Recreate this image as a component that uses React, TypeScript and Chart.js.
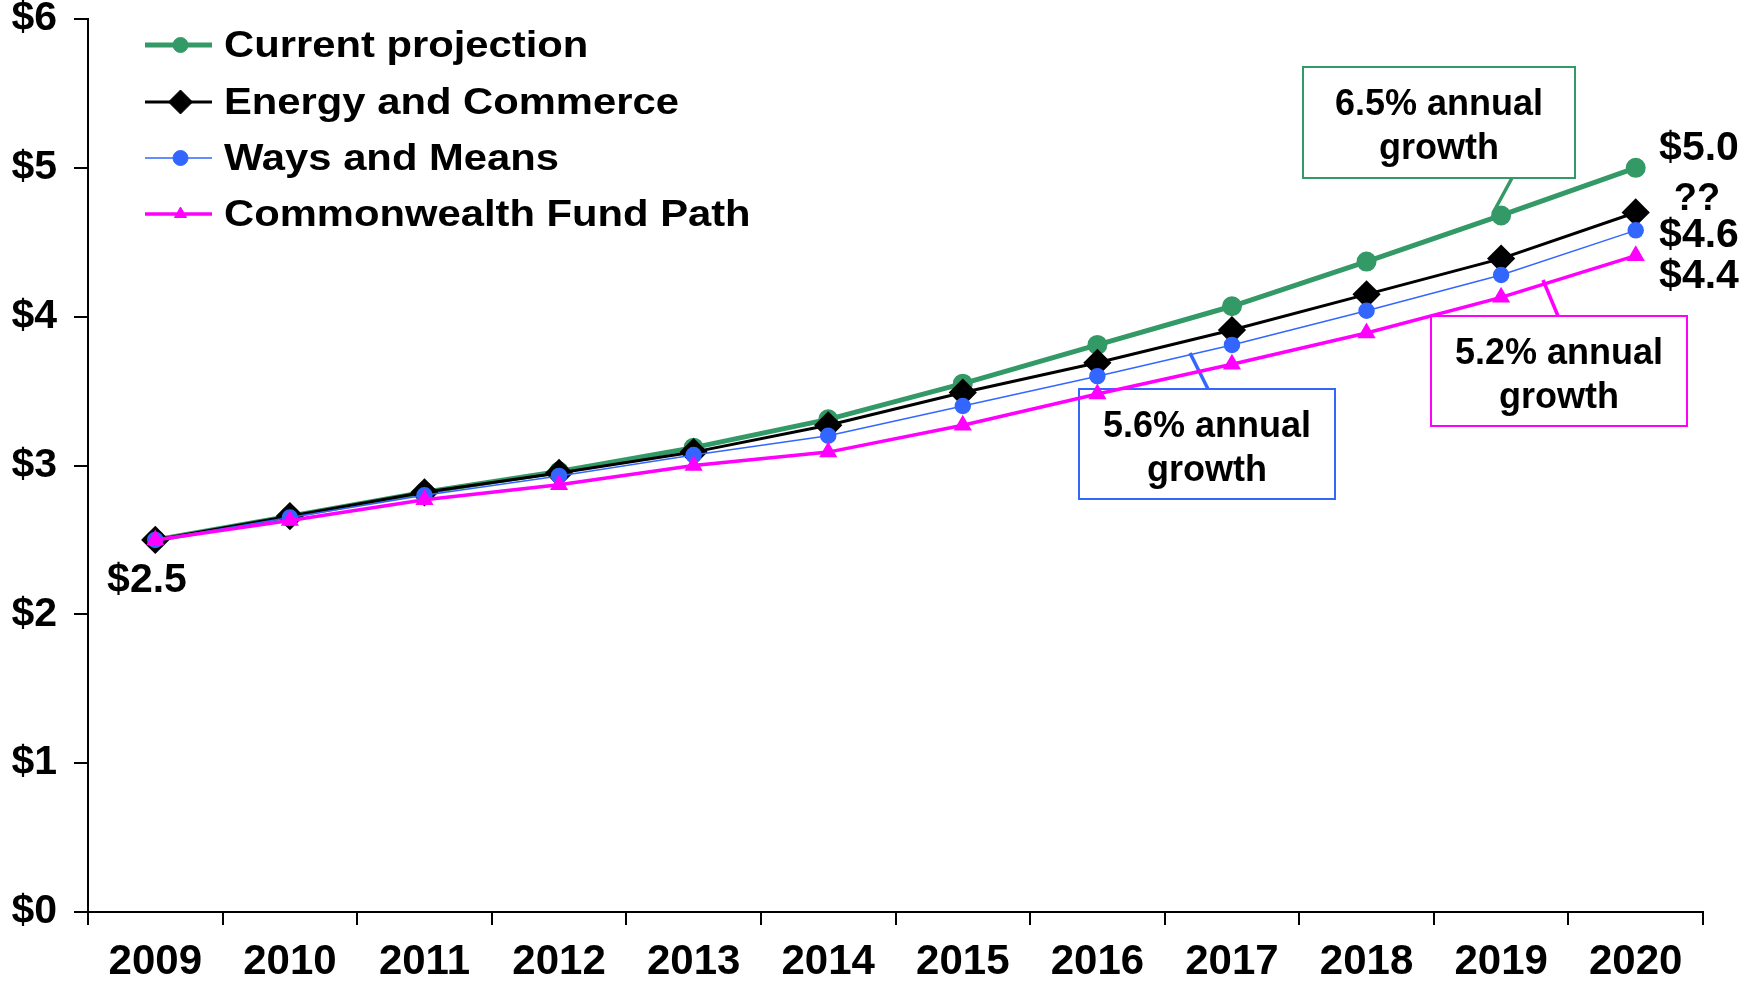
import React, { useEffect, useRef } from "react";
import { Chart, registerables } from "chart.js";
import { drawPoint } from "chart.js/helpers";

Chart.register(...registerables);

const years = ["2009", "2010", "2011", "2012", "2013", "2014", "2015", "2016", "2017", "2018", "2019", "2020"];
const currentProjection = [2.5, 2.66, 2.82, 2.96, 3.12, 3.31, 3.55, 3.81, 4.07, 4.37, 4.68, 5.0];
const energyCommerce = [2.5, 2.66, 2.82, 2.95, 3.09, 3.27, 3.49, 3.69, 3.91, 4.15, 4.39, 4.7];
const waysMeans = [2.5, 2.65, 2.8, 2.93, 3.07, 3.2, 3.4, 3.6, 3.81, 4.04, 4.28, 4.58];
const commonwealthPath = [2.5, 2.63, 2.77, 2.87, 3.0, 3.09, 3.27, 3.48, 3.68, 3.89, 4.13, 4.41];
const seriesNames = ["Current projection", "Energy and Commerce", "Ways and Means", "Commonwealth Fund Path"];
const yMin = 0;
const yMax = 6;
const yStep = 1;
const startLabel = "$2.5";
const endLabels = ["$5.0", "??", "$4.6", "$4.4"];
const growthNotes = [
  ["6.5% annual", "growth"],
  ["5.6% annual", "growth"],
  ["5.2% annual", "growth"],
];

const GREEN = "#339966";
const BLACK = "#000000";
const BLUE = "#3366ff";
const MAGENTA = "#ff00ff";
const FONT = '"Liberation Sans", Arial, sans-serif';

const legendPlugin = {
  id: "customLegend",
  afterDraw(chart: any) {
    const ctx = chart.ctx;
    const x0 = 145;
    const x1 = 212;
    const textX = 224;
    const rows = [45, 102, 158, 214];
    chart.data.datasets.forEach((ds: any, i: number) => {
      const y = rows[i];
      ctx.save();
      ctx.strokeStyle = ds.borderColor;
      ctx.lineWidth = ds.borderWidth;
      ctx.beginPath();
      ctx.moveTo(x0, y);
      ctx.lineTo(x1, y);
      ctx.stroke();
      ctx.fillStyle = ds.pointBackgroundColor;
      ctx.strokeStyle = ds.pointBorderColor;
      ctx.lineWidth = 1;
      drawPoint(ctx, { pointStyle: ds.pointStyle, radius: ds.pointRadius, borderWidth: 1, rotation: 0 } as any, (x0 + x1) / 2 + 2, y);
      ctx.fillStyle = "#000";
      ctx.font = `bold 36px ${FONT}`;
      ctx.textBaseline = "middle";
      ctx.textAlign = "left";
      ctx.translate(textX, y + 2);
      ctx.scale(1.16, 1.04);
      ctx.fillText(ds.label, 0, 0);
      ctx.restore();
    });
  },
};

const notesPlugin = {
  id: "growthNotes",
  beforeDatasetsDraw(chart: any) {
    const ctx = chart.ctx;
    const boxes = [
      { x: 1303, y: 67, w: 272, h: 111, color: GREEN, from: [1512, 178], to: [1493, 213], text: growthNotes[0] },
      { x: 1079, y: 389, w: 256, h: 110, color: BLUE, from: [1208, 389], to: [1190, 353], text: growthNotes[1] },
      { x: 1431, y: 316, w: 256, h: 110, color: MAGENTA, from: [1558, 316], to: [1543, 280], text: growthNotes[2] },
    ];
    ctx.save();
    boxes.forEach((b) => {
      ctx.strokeStyle = b.color;
      ctx.lineWidth = 2;
      ctx.strokeRect(b.x, b.y, b.w, b.h);
      ctx.lineWidth = 3.5;
      ctx.beginPath();
      ctx.moveTo(b.from[0], b.from[1]);
      ctx.lineTo(b.to[0], b.to[1]);
      ctx.stroke();
      ctx.fillStyle = "#000";
      ctx.font = `bold 36px ${FONT}`;
      ctx.textAlign = "center";
      ctx.textBaseline = "alphabetic";
      ctx.fillText(b.text[0], b.x + b.w / 2, b.y + 48);
      ctx.fillText(b.text[1], b.x + b.w / 2, b.y + 92);
    });
    ctx.restore();
  },
  afterDraw(chart: any) {
    const ctx = chart.ctx;
    ctx.save();
    ctx.fillStyle = "#000";
    ctx.textAlign = "center";
    ctx.textBaseline = "middle";
    ctx.font = `bold 41px ${FONT}`;
    ctx.fillText(startLabel, 147, 581);
    const ys = [149, 200, 236, 277];
    endLabels.forEach((t, i) => {
      ctx.font = i === 1 ? `bold 38px ${FONT}` : `bold 41px ${FONT}`;
      ctx.fillText(t, i === 1 ? 1697 : 1699, ys[i]);
    });
    ctx.restore();
  },
};

export default function App() {
  const ref = useRef<HTMLCanvasElement | null>(null);
  useEffect(() => {
    if (!ref.current) return;
    const chart = new Chart(ref.current, {
      type: "line",
      data: {
        labels: years,
        datasets: [
          {
            label: seriesNames[0],
            data: currentProjection,
            borderColor: GREEN,
            backgroundColor: GREEN,
            pointBackgroundColor: GREEN,
            pointBorderColor: GREEN,
            borderWidth: 5,
            pointStyle: "circle",
            pointRadius: 7.5,
            order: 4,
          },
          {
            label: seriesNames[1],
            data: energyCommerce,
            borderColor: BLACK,
            backgroundColor: BLACK,
            pointBackgroundColor: BLACK,
            pointBorderColor: BLACK,
            borderWidth: 3,
            pointStyle: "rectRot",
            pointRadius: 12,
            order: 3,
          },
          {
            label: seriesNames[2],
            data: waysMeans,
            borderColor: BLUE,
            backgroundColor: BLUE,
            pointBackgroundColor: BLUE,
            pointBorderColor: BLUE,
            borderWidth: 1.5,
            pointStyle: "circle",
            pointRadius: 7.5,
            order: 2,
          },
          {
            label: seriesNames[3],
            data: commonwealthPath,
            borderColor: MAGENTA,
            backgroundColor: MAGENTA,
            pointBackgroundColor: MAGENTA,
            pointBorderColor: MAGENTA,
            borderWidth: 3.5,
            pointStyle: "triangle",
            pointRadius: 7,
            order: 1,
          },
        ],
      } as any,
      options: {
        animation: false,
        responsive: false,
        devicePixelRatio: 1,
        layout: { autoPadding: false, padding: { top: 19, right: 46, left: 0, bottom: 0 } },
        plugins: { legend: { display: false }, tooltip: { enabled: false } },
        elements: { line: { tension: 0 } },
        scales: {
          x: {
            type: "category",
            offset: true,
            grid: { offset: true, drawOnChartArea: false, drawTicks: true, tickLength: 13, color: "#000", lineWidth: 2 },
            border: { display: true, color: "#000", width: 2 },
            ticks: { color: "#000", padding: 12, font: { family: FONT, size: 42, weight: "bold" }, maxRotation: 0, autoSkip: false },
            afterFit: (s: any) => {
              s.height = 72;
            },
          },
          y: {
            min: yMin,
            max: yMax,
            grid: { drawOnChartArea: false, drawTicks: true, tickLength: 14, color: "#000", lineWidth: 2 },
            border: { display: true, color: "#000", width: 2 },
            ticks: {
              stepSize: yStep,
              color: "#000",
              padding: 17,
              font: { family: FONT, size: 41, weight: "bold", lineHeight: 0.05 },
              callback: (v: any) => "$" + v,
            },
            afterFit: (s: any) => {
              s.width = 88;
            },
          },
        },
      } as any,
      plugins: [legendPlugin, notesPlugin],
    });
    return () => chart.destroy();
  }, []);
  return (
    <div style={{ position: "fixed", left: 0, top: 0, width: 1749, height: 984, background: "#fff" }}>
      <canvas ref={ref} width={1749} height={984} style={{ display: "block", width: 1749, height: 984 }} />
    </div>
  );
}
